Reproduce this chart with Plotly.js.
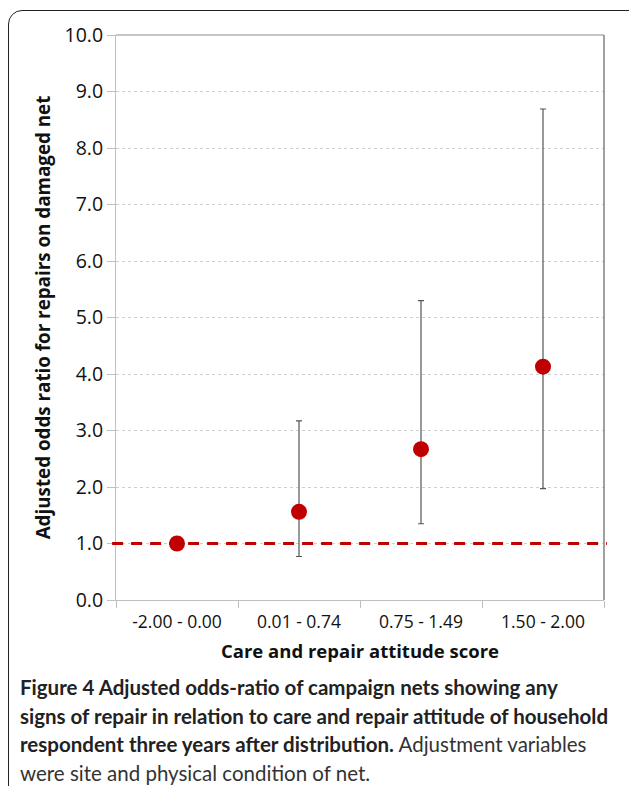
<!DOCTYPE html>
<html>
<head>
<meta charset="utf-8">
<script src="https://cdn.plot.ly/plotly-3.0.1.min.js"></script>
<style>
html,body{margin:0;padding:0;background:#fff;width:629px;height:786px;overflow:hidden;}
#frame{position:absolute;left:8px;top:10px;width:640px;height:800px;border:1.5px solid #222;border-radius:14px;box-sizing:border-box;}
#chart{position:absolute;left:0;top:0;width:629px;height:786px;}
#cap{position:absolute;left:20px;top:673px;font-family:"Lato","Open Sans",sans-serif;font-size:20.5px;line-height:28.5px;color:#222;white-space:nowrap;}
#cap b{font-weight:700;}
#cap span{font-weight:400;color:#333;}
</style>
</head>
<body>
<div id="frame"></div>
<div id="chart"></div>
<div id="cap"><b>Figure 4 Adjusted odds-ratio of campaign nets showing any<br>signs of repair in relation to care and repair attitude of household<br>respondent three years after distribution.</b><span> Adjustment variables<br>were site and physical condition of net.</span></div>
<script>
var categories = ["-2.00 - 0.00", "0.01 - 0.74", "0.75 - 1.49", "1.50 - 2.00"];
var oddsRatio = [1.0, 1.56, 2.67, 4.13];
var ciUpper = [1.0, 3.17, 5.30, 8.69];
var ciLower = [1.0, 0.77, 1.35, 1.97];
var referenceLevel = 1.0;

var errPlus = oddsRatio.map(function(v, i){ return ciUpper[i] - v; });
var errMinus = oddsRatio.map(function(v, i){ return v - ciLower[i]; });
var errVisible = oddsRatio.map(function(v, i){ return ciUpper[i] !== ciLower[i]; });

var trace = {
  type: "scatter",
  mode: "markers",
  x: categories,
  y: oddsRatio,
  marker: {color: "#c00000", size: 16, line: {width: 0}},
  error_y: {
    type: "data",
    symmetric: false,
    array: errPlus.map(function(e,i){ return errVisible[i] ? e : null; }),
    arrayminus: errMinus.map(function(e,i){ return errVisible[i] ? e : null; }),
    color: "#555555",
    thickness: 1.2,
    width: 3
  },
  hoverinfo: "x+y",
  showlegend: false
};

var layout = {
  width: 629,
  height: 786,
  margin: {l: 116, r: 25, t: 35, b: 186},
  paper_bgcolor: "rgba(0,0,0,0)",
  plot_bgcolor: "rgba(0,0,0,0)",
  showlegend: false,
  xaxis: {
    type: "category",
    range: [-0.5, 3.5],
    tickson: "boundaries",
    ticks: "outside",
    ticklen: 7,
    tickcolor: "#bfbfbf",
    tickwidth: 1,
    ticklabelstandoff: 6,
    showline: true,
    linecolor: "#bfbfbf",
    linewidth: 1,
    showgrid: false,
    zeroline: false,
    tickfont: {family: "Open Sans, sans-serif", size: 17.5, color: "#111"},
    title: {text: "<b>Care and repair attitude score</b>", font: {family: "Open Sans, sans-serif", size: 18.5, color: "#111"}, standoff: 13}
  },
  yaxis: {
    range: [0, 10],
    dtick: 1,
    tickformat: ".1f",
    ticks: "outside",
    ticklen: 8,
    tickcolor: "#bfbfbf",
    showline: true,
    linecolor: "#bfbfbf",
    linewidth: 1,
    showgrid: true,
    gridcolor: "#cfcfcf",
    griddash: "dot",
    gridwidth: 1,
    zeroline: false,
    tickfont: {family: "Open Sans, sans-serif", size: 19.5, color: "#111"},
    title: {text: "<b>Adjusted odds ratio for repairs on damaged net</b>", font: {family: "Open Sans, sans-serif", size: 18.8, color: "#111"}, standoff: 8}
  },
  shapes: [
    {type: "line", xref: "paper", yref: "paper", x0: 0, x1: 1, y0: 1, y1: 1, line: {color: "#8c8c8c", width: 1}},
    {type: "line", xref: "paper", yref: "paper", x0: 1, x1: 1, y0: 0, y1: 1, line: {color: "#6e6e6e", width: 1.3}},
    {type: "line", xref: "paper", yref: "y", x0: -0.008, x1: 1.006, y0: referenceLevel, y1: referenceLevel,
     line: {color: "#c00000", width: 3.2, dash: "11px,8px"}, layer: "above"}
  ]
};

Plotly.newPlot("chart", [trace], layout, {displayModeBar: false, staticPlot: true});
</script>
</body>
</html>
